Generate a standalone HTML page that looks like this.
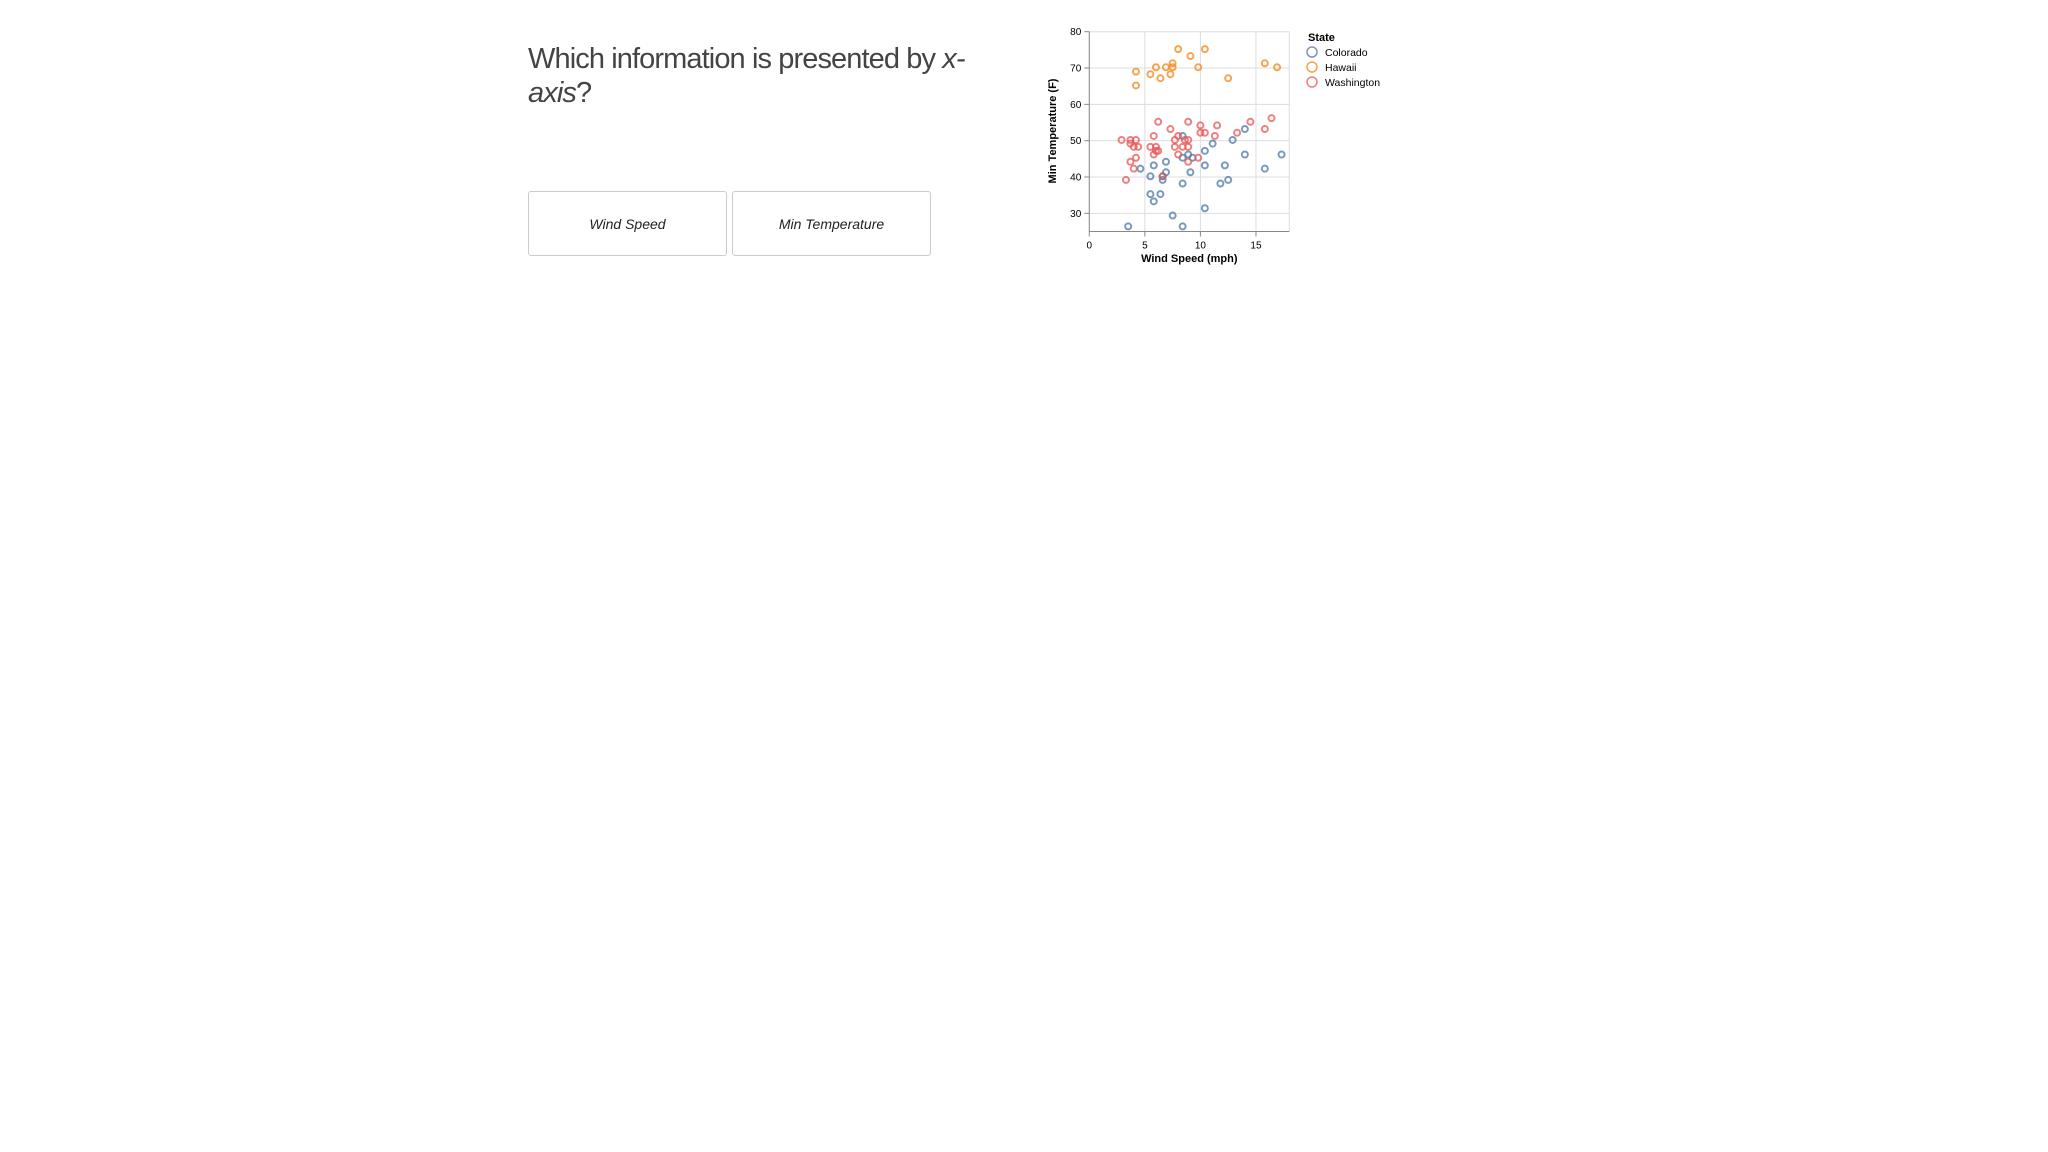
<!DOCTYPE html>
<html><head><meta charset="utf-8"><style>
body{margin:0;width:2048px;height:1152px;background:#fff;font-family:"Liberation Sans",sans-serif;position:relative;overflow:hidden}
#q{position:absolute;left:528px;top:42px;font-size:29px;font-weight:300;color:#444;line-height:34px;letter-spacing:-0.9px}
.btn{position:absolute;top:191px;width:199px;height:65px;border:1px solid #ccc;border-radius:3px;box-sizing:border-box;font-style:italic;font-size:14px;color:#222;display:flex;align-items:center;justify-content:center;background:#fff}
svg{position:absolute;left:0;top:0}
</style></head><body>
<div id="q">Which information is presented by <i>x-</i><br><i>axis</i>?</div>
<div class="btn" style="left:528px">Wind Speed</div>
<div class="btn" style="left:732px">Min Temperature</div>
<svg id="chart" width="2048" height="300"></svg>
<script>
const states=["Colorado","Hawaii","Washington"];
const colors=["#4c78a8","#f58518","#e45756"];
const coloradoX=[3.5,4.6,5.5,5.8,5.5,5.8,6.4,6.6,6.6,6.9,6.9,7.5,8.4,8.4,8.4,8.4,8.9,9.1,9.3,10.4,10.4,10.4,11.1,11.8,12.2,12.5,12.9,14,14,15.8,17.3];
const coloradoY=[26.4,42.3,40.2,43.2,35.3,33.3,35.3,39.2,40.2,41.3,44.2,29.4,51.3,45.3,38.2,26.4,46.2,41.3,45.3,47.2,43.2,31.4,49.2,38.2,43.2,39.2,50.2,53.2,46.2,42.3,46.2];
const hawaiiX=[4.2,4.2,5.5,6,6.4,6.9,7.3,7.5,7.5,8,9.1,9.8,10.4,12.5,15.8,16.9];
const hawaiiY=[69,65.2,68.3,70.2,67.2,70.2,68.3,71.3,70.2,75.2,73.3,70.2,75.2,67.2,71.3,70.2];
const washingtonX=[2.9,3.3,3.7,3.7,3.7,4,4,4.2,4.2,4.4,6.2,5.8,5.5,6,6,6.2,5.8,6.6,7.3,7.7,7.7,8,8,8.4,8.6,8.9,8.9,8.9,8.9,9.8,10,10,10.4,11.3,11.5,13.3,14.5,15.8,16.4];
const washingtonY=[50.2,39.2,50.2,49.2,44.2,48.3,42.3,50.2,45.3,48.3,55.2,51.3,48.3,48.3,47.2,47.2,46.2,40.2,53.2,50.2,48.3,51.3,46.2,48.3,50.2,55.2,50.2,48.3,44.2,45.3,54.2,52.2,52.2,51.3,54.2,52.2,55.2,53.2,56.2];
const xTicks=[0,5,10,15];
const yTicks=[30,40,50,60,70,80];
const X0=1089.3,X1=1289.3,Y0=231.5,Y1=31.7;
const xs=v=>X0+(v-0)/(18-0)*(X1-X0);
const ys=v=>Y0-(v-25)/(80-25)*(Y0-Y1);
const svg=document.getElementById('chart');
const NS="http://www.w3.org/2000/svg";
function mk(t,a,p){const e=document.createElementNS(NS,t);for(const k in a)e.setAttribute(k,a[k]);(p||svg).appendChild(e);return e;}
for(const t of xTicks){
 const l=mk('line',{x1:xs(t),x2:xs(t),y1:Y1,y2:Y0,stroke:'#ddd'});
 
 
 mk('line',{x1:xs(t),x2:xs(t),y1:Y0,y2:Y0+5,stroke:'#888'});
 const tx=mk('text',{x:xs(t),y:Y0+17,'text-anchor':'middle','font-size':10,fill:'#000'});tx.textContent=t;
 
 
}
mk('line',{x1:X1,x2:X1,y1:Y1,y2:Y0,stroke:'#ddd'});
for(const t of yTicks){
 const l=mk('line',{x1:X0,x2:X1,y1:ys(t),y2:ys(t),stroke:'#ddd'});
 
 
 mk('line',{x1:X0-5,x2:X0,y1:ys(t),y2:ys(t),stroke:'#888'});
 const tx=mk('text',{x:X0-8,y:ys(t)+3.5,'text-anchor':'end','font-size':10,fill:'#000'});tx.textContent=t;
 
 
}
mk('line',{x1:X0,x2:X0,y1:Y1,y2:Y0,stroke:'#888'});
mk('line',{x1:X0,x2:X1,y1:Y0,y2:Y0,stroke:'#888'});
const xt=mk('text',{x:(X0+X1)/2,y:262,'text-anchor':'middle','font-size':11,'font-weight':'bold'});xt.textContent='Wind Speed (mph)';


const yt=mk('text',{x:0,y:0,'text-anchor':'middle','font-size':11,'font-weight':'bold',transform:'translate(1056,131) rotate(-90)'});yt.textContent='Min Temperature (F)';


const series=[[coloradoX,coloradoY],[hawaiiX,hawaiiY],[washingtonX,washingtonY]];
series.forEach((s,i)=>{s[0].forEach((v,j)=>{
 const c=mk('circle',{cx:xs(v),cy:ys(s[1][j]),r:3,fill:'none',stroke:colors[i],'stroke-width':2,opacity:0.75});
 
 
});});
const lt=mk('text',{x:1308,y:41,'font-size':11,'font-weight':'bold'});lt.textContent='State';


states.forEach((s,i)=>{
 const c=mk('circle',{cx:1312,cy:52+i*15,r:5,fill:'none',stroke:colors[i],'stroke-width':1.5,opacity:0.75});
 
 
 const t=mk('text',{x:1325,y:56+i*15,'font-size':10.5});t.textContent=s;
 
 
});
</script>
</body></html>
